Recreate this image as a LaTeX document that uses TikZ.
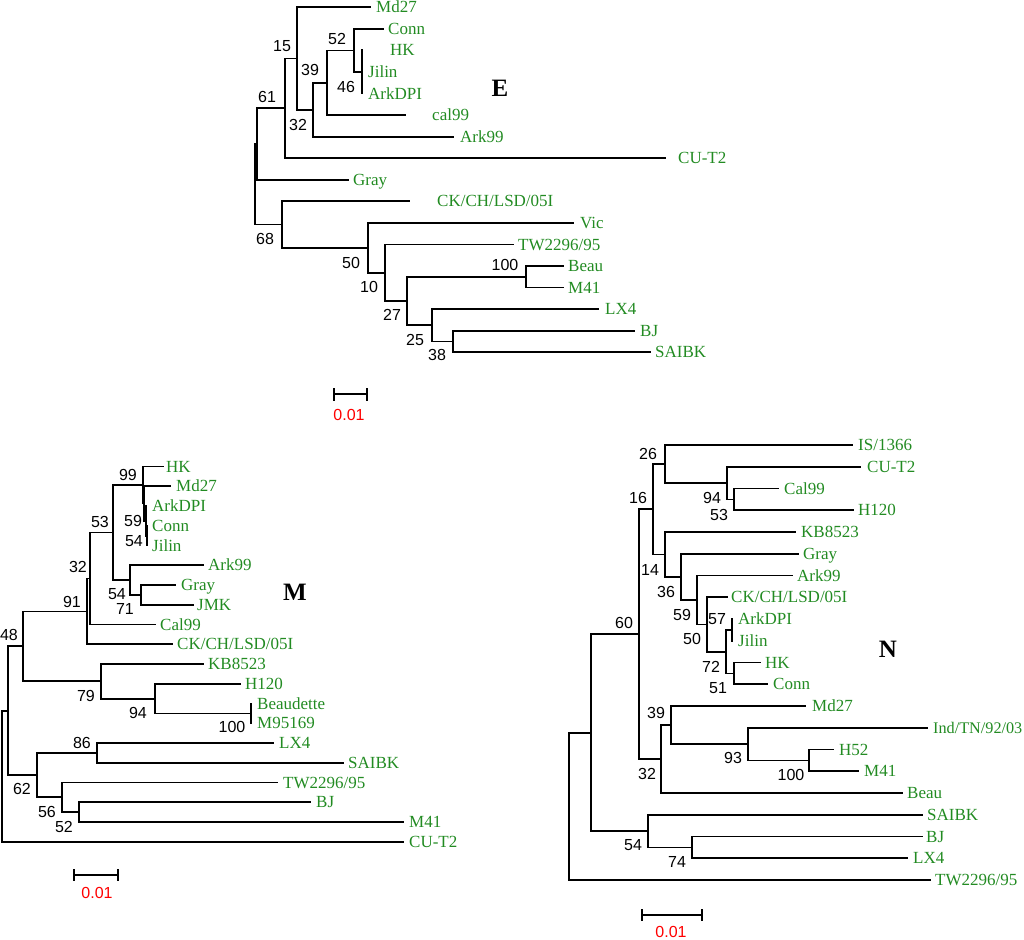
\documentclass[tikz,border=0pt]{standalone}
\usepackage{fontspec}
\setmainfont{Liberation Serif}
\setsansfont{Liberation Sans}
\usepackage{xcolor}
\definecolor{leafgreen}{RGB}{34,139,34}
\newcommand{\tipfont}{\fontsize{17}{17}\selectfont}
\newcommand{\bootfont}{\sffamily\fontsize{16}{16}\selectfont}
\newcommand{\panelfont}{\bfseries\fontsize{25}{25}\selectfont}

\begin{document}
\begin{tikzpicture}[x=1pt,y=-1pt,
  branch/.style={draw=black,line width=1.8pt,line cap=rect},
  tip/.style={anchor=base west,inner sep=0pt,text=leafgreen,font=\tipfont,yshift=-5.6pt},
  boot/.style={inner sep=0pt,font=\bootfont},
  panel/.style={inner sep=0pt,font=\panelfont},
  scalelbl/.style={inner sep=0pt,text=red,font=\bootfont}]
 \useasboundingbox (0,0) rectangle (1024,939);

 % ---------------- tree E ----------------
 \coordinate (eMd27)   at (370,7.3);
 \coordinate (eConn)   at (383,28.9);
 \coordinate (eHK)     at (362,50.4);
 \coordinate (eJilin)  at (362,72);
 \coordinate (eArkDPI) at (362,93.5);
 \coordinate (ecal99)  at (405,115);
 \coordinate (eArk99)  at (453,136.6);
 \coordinate (eCUT2)   at (665,158.2);
 \coordinate (eGray)   at (348,179.7);
 \coordinate (eCK)     at (409,201.3);
 \coordinate (eVic)    at (573,222.8);
 \coordinate (eTW)     at (513,244.4);
 \coordinate (eBeau)   at (563,265.9);
 \coordinate (eM41)    at (563,287.5);
 \coordinate (eLX4)    at (598,309);
 \coordinate (eBJ)     at (634,330.6);
 \coordinate (eSAIBK)  at (650,352.1);

 \coordinate (e46)  at (362,72);
 \coordinate (e52)  at (354,50.5);
 \coordinate (e39)  at (327,82.8);
 \coordinate (e32)  at (313,109.7);
 \coordinate (e15)  at (297,58.5);
 \coordinate (e61)  at (285,108.4);
 \coordinate (eX)   at (257.3,144);
 \coordinate (eR)   at (255,184.3);
 \coordinate (e68)  at (282,224.5);
 \coordinate (e50)  at (368,247.8);
 \coordinate (e10)  at (385,272.7);
 \coordinate (e27)  at (407,301);
 \coordinate (e100) at (526,276.7);
 \coordinate (e25)  at (432,325.2);
 \coordinate (e38)  at (453,341.4);

 \draw[branch] (eR) |- (eX) (eR) |- (e68);
 \draw[branch] (eX) |- (e61) (eX) |- (eGray);
 \draw[branch] (e61) |- (e15) (e61) |- (eCUT2);
 \draw[branch] (e15) |- (eMd27) (e15) |- (e32);
 \draw[branch] (e32) |- (e39) (e32) |- (eArk99);
 \draw[branch] (e39) |- (e52) (e39) |- (ecal99);
 \draw[branch] (e52) |- (eConn) (e52) |- (e46);
 \draw[branch] (e46) |- (eHK) (e46) |- (eArkDPI);
 \draw[branch] (e68) |- (eCK) (e68) |- (e50);
 \draw[branch] (e50) |- (eVic) (e50) |- (e10);
 \draw[branch] (e10) |- (eTW) (e10) |- (e27);
 \draw[branch] (e27) |- (e100) (e27) |- (e25);
 \draw[branch] (e100) |- (eBeau) (e100) |- (eM41);
 \draw[branch] (e25) |- (eLX4) (e25) |- (e38);
 \draw[branch] (e38) |- (eBJ) (e38) |- (eSAIBK);

 \node[tip] (teMd27)   at (376,7.3)   {Md27};
 \node[tip] (teConn)   at (388,28.9)  {Conn};
 \node[tip] (teHK)     at (390,50.4)  {HK};
 \node[tip] (teJilin)  at (368,72)    {Jilin};
 \node[tip] (teArkDPI) at (368,93.5)  {ArkDPI};
 \node[tip] (tecal99)  at (432,115)   {cal99};
 \node[tip] (teArk99)  at (460,136.6) {Ark99};
 \node[tip] (teCUT2)   at (678,158.2) {CU-T2};
 \node[tip] (teGray)   at (353,179.7) {Gray};
 \node[tip] (teCK)     at (437,201.3) {CK/CH/LSD/05I};
 \node[tip] (teVic)    at (580,222.8) {Vic};
 \node[tip] (teTW)     at (518,244.4) {TW2296/95};
 \node[tip] (teBeau)   at (568,265.9) {Beau};
 \node[tip] (teM41)    at (568,287.5) {M41};
 \node[tip] (teLX4)    at (605,309)   {LX4};
 \node[tip] (teBJ)     at (640,330.6) {BJ};
 \node[tip] (teSAIBK)  at (655,352.1) {SAIBK};

 \node[boot] (be61)  at (267,97)  {61};
 \node[boot] (be15)  at (282,46)  {15};
 \node[boot] (be39)  at (310,70)  {39};
 \node[boot] (be52)  at (337,39)  {52};
 \node[boot] (be46)  at (346,87)  {46};
 \node[boot] (be32)  at (298,125) {32};
 \node[boot] (be68)  at (265,239) {68};
 \node[boot] (be50)  at (351,263) {50};
 \node[boot] (be10)  at (369,287) {10};
 \node[boot] (be27)  at (392,315) {27};
 \node[boot] (be100) at (505,265) {100};
 \node[boot] (be25)  at (415,340) {25};
 \node[boot] (be38)  at (437,355) {38};

 \node[panel] (pE) at (500,88) {E};

 \coordinate (esl) at (334,394.3);
 \coordinate (esr) at (366.7,394.3);
 \draw[branch] (esl) -- (esr);
 \draw[branch] ([yshift=5.5pt]esl) -- ([yshift=-5.5pt]esl);
 \draw[branch] ([yshift=5.5pt]esr) -- ([yshift=-5.5pt]esr);
 \node[scalelbl] (eslab) at (349,415) {0.01};

 % ---------------- tree M ----------------
 \coordinate (mHK)     at (163,466.5);
 \coordinate (mMd27)   at (170,486.25);
 \coordinate (mArkDPI) at (146,506);
 \coordinate (mConn)   at (147,525.75);
 \coordinate (mJilin)  at (147,545.5);
 \coordinate (mArk99)  at (203,565.25);
 \coordinate (mGray)   at (175,585);
 \coordinate (mJMK)    at (193,604.75);
 \coordinate (mCal99)  at (155,624.5);
 \coordinate (mCK)     at (172,644.25);
 \coordinate (mKB)     at (203,664);
 \coordinate (mH120)   at (240,683.75);
 \coordinate (mBeaud)  at (251,703.5);
 \coordinate (mM95)    at (251,723.25);
 \coordinate (mLX4)    at (273,743);
 \coordinate (mSAIBK)  at (343,762.75);
 \coordinate (mTW)     at (277,782.5);
 \coordinate (mBJ)     at (310,802.25);
 \coordinate (mM41)    at (403,822);
 \coordinate (mCUT2)   at (403,841.75);

 \coordinate (m54a) at (147,535.6);
 \coordinate (m59)  at (146,520.8);
 \coordinate (mB)   at (144.3,503.5);
 \coordinate (m99)  at (143.3,485);
 \coordinate (m71)  at (141,594.9);
 \coordinate (m54b) at (130,580.1);
 \coordinate (m53)  at (113,532.5);
 \coordinate (m32)  at (90,578.5);
 \coordinate (m91)  at (87,611.4);
 \coordinate (m100) at (251,713.4);
 \coordinate (m94)  at (155,698.6);
 \coordinate (m79)  at (101,681.3);
 \coordinate (m48)  at (23,646.3);
 \coordinate (m86)  at (97,752.9);
 \coordinate (m52)  at (79,812.1);
 \coordinate (m56)  at (62,797.3);
 \coordinate (m62)  at (37,775.1);
 \coordinate (mY)   at (8,710.7);
 \coordinate (mR)   at (2,776.2);

 \draw[branch] (mR) |- (mY) (mR) |- (mCUT2);
 \draw[branch] (mY) |- (m48) (mY) |- (m62);
 \draw[branch] (m48) |- (m91) (m48) |- (m79);
 \draw[branch] (m91) |- (m32) (m91) |- (mCK);
 \draw[branch] (m32) |- (m53) (m32) |- (mCal99);
 \draw[branch] (m53) |- (m99) (m53) |- (m54b);
 \draw[branch] (m99) |- (mHK) (m99) |- (mB);
 \draw[branch] (mB) |- (mMd27) (mB) |- (m59);
 \draw[branch] (m59) |- (mArkDPI) (m59) |- (m54a);
 \draw[branch] (m54a) |- (mConn) (m54a) |- (mJilin);
 \draw[branch] (m54b) |- (mArk99) (m54b) |- (m71);
 \draw[branch] (m71) |- (mGray) (m71) |- (mJMK);
 \draw[branch] (m79) |- (mKB) (m79) |- (m94);
 \draw[branch] (m94) |- (mH120) (m94) |- (m100);
 \draw[branch] (m100) |- (mBeaud) (m100) |- (mM95);
 \draw[branch] (m62) |- (m86) (m62) |- (m56);
 \draw[branch] (m86) |- (mLX4) (m86) |- (mSAIBK);
 \draw[branch] (m56) |- (mTW) (m56) |- (m52);
 \draw[branch] (m52) |- (mBJ) (m52) |- (mM41);

 \node[tip] (tmHK)     at (166,466.5)  {HK};
 \node[tip] (tmMd27)   at (176,486.25) {Md27};
 \node[tip] (tmArkDPI) at (152,506)    {ArkDPI};
 \node[tip] (tmConn)   at (152,525.75) {Conn};
 \node[tip] (tmJilin)  at (152,545.5)  {Jilin};
 \node[tip] (tmArk99)  at (208,565.25) {Ark99};
 \node[tip] (tmGray)   at (181,585)    {Gray};
 \node[tip] (tmJMK)    at (197,604.75) {JMK};
 \node[tip] (tmCal99)  at (160,624.5)  {Cal99};
 \node[tip] (tmCK)     at (177,644.25) {CK/CH/LSD/05I};
 \node[tip] (tmKB)     at (208,664)    {KB8523};
 \node[tip] (tmH120)   at (245,683.75) {H120};
 \node[tip] (tmBeaud)  at (257,703.5)  {Beaudette};
 \node[tip] (tmM95)    at (257,723.25) {M95169};
 \node[tip] (tmLX4)    at (279,743)    {LX4};
 \node[tip] (tmSAIBK)  at (348,762.75) {SAIBK};
 \node[tip] (tmTW)     at (283,782.5)  {TW2296/95};
 \node[tip] (tmBJ)     at (316,802.25) {BJ};
 \node[tip] (tmM41)    at (409,822)    {M41};
 \node[tip] (tmCUT2)   at (409,841.75) {CU-T2};

 \node[boot] (bm99)  at (128,475) {99};
 \node[boot] (bm59)  at (133,521) {59};
 \node[boot] (bm54a) at (134,541) {54};
 \node[boot] (bm53)  at (100,522) {53};
 \node[boot] (bm32)  at (78,567)  {32};
 \node[boot] (bm54b) at (117,594) {54};
 \node[boot] (bm71)  at (125,609) {71};
 \node[boot] (bm91)  at (72,602)  {91};
 \node[boot] (bm48)  at (9,635)   {48};
 \node[boot] (bm79)  at (86,696)  {79};
 \node[boot] (bm94)  at (138,713) {94};
 \node[boot] (bm100) at (232,727) {100};
 \node[boot] (bm86)  at (82,743)  {86};
 \node[boot] (bm62)  at (22,789)  {62};
 \node[boot] (bm56)  at (47,812)  {56};
 \node[boot] (bm52)  at (64,827)  {52};

 \node[panel] (pM) at (295,592) {M};

 \coordinate (msl) at (74,875);
 \coordinate (msr) at (118.3,875);
 \draw[branch] (msl) -- (msr);
 \draw[branch] ([yshift=5.5pt]msl) -- ([yshift=-5.5pt]msl);
 \draw[branch] ([yshift=5.5pt]msr) -- ([yshift=-5.5pt]msr);
 \node[scalelbl] (mslab) at (97,893) {0.01};

 % ---------------- tree N ----------------
 \coordinate (nIS)     at (852,445);
 \coordinate (nCUT2)   at (860,466.75);
 \coordinate (nCal99)  at (778,488.5);
 \coordinate (nH120)   at (853,510.25);
 \coordinate (nKB)     at (795,532);
 \coordinate (nGray)   at (798,553.75);
 \coordinate (nArk99)  at (792,575.5);
 \coordinate (nCK)     at (726.7,597.25);
 \coordinate (nArkDPI) at (731.7,619);
 \coordinate (nJilin)  at (731.7,640.75);
 \coordinate (nHK)     at (760,662.5);
 \coordinate (nConn)   at (767,684.25);
 \coordinate (nMd27)   at (805,706);
 \coordinate (nInd)    at (927,727.75);
 \coordinate (nH52)    at (833,749.5);
 \coordinate (nM41)    at (858,771.25);
 \coordinate (nBeau)   at (902,793);
 \coordinate (nSAIBK)  at (922,814.75);
 \coordinate (nBJ)     at (922,836.5);
 \coordinate (nLX4)    at (907,858.25);
 \coordinate (nTW)     at (930,880);

 \coordinate (n53)  at (734,499.4);
 \coordinate (n94)  at (726.7,483.1);
 \coordinate (n26)  at (665,464);
 \coordinate (n57)  at (731.7,629.9);
 \coordinate (n51)  at (734,673.4);
 \coordinate (n72)  at (725.7,651.6);
 \coordinate (n50)  at (706.7,624.4);
 \coordinate (n59)  at (696.7,600);
 \coordinate (n36)  at (680.7,576.9);
 \coordinate (n14)  at (665,554.4);
 \coordinate (n16)  at (652.7,509.2);
 \coordinate (n100) at (809.3,760.4);
 \coordinate (n93)  at (748.3,744.1);
 \coordinate (n39)  at (670.7,725);
 \coordinate (n32)  at (661,759);
 \coordinate (n60)  at (639,634.1);
 \coordinate (n74)  at (692.3,847.4);
 \coordinate (n54)  at (647.7,831.1);
 \coordinate (nP)   at (591,732.6);
 \coordinate (nR)   at (569.3,806.3);

 \draw[branch] (nR) |- (nP) (nR) |- (nTW);
 \draw[branch] (nP) |- (n60) (nP) |- (n54);
 \draw[branch] (n60) |- (n16) (n60) |- (n32);
 \draw[branch] (n16) |- (n26) (n16) |- (n14);
 \draw[branch] (n26) |- (nIS) (n26) |- (n94);
 \draw[branch] (n94) |- (nCUT2) (n94) |- (n53);
 \draw[branch] (n53) |- (nCal99) (n53) |- (nH120);
 \draw[branch] (n14) |- (nKB) (n14) |- (n36);
 \draw[branch] (n36) |- (nGray) (n36) |- (n59);
 \draw[branch] (n59) |- (nArk99) (n59) |- (n50);
 \draw[branch] (n50) |- (nCK) (n50) |- (n72);
 \draw[branch] (n72) |- (n57) (n72) |- (n51);
 \draw[branch] (n57) |- (nArkDPI) (n57) |- (nJilin);
 \draw[branch] (n51) |- (nHK) (n51) |- (nConn);
 \draw[branch] (n32) |- (n39) (n32) |- (nBeau);
 \draw[branch] (n39) |- (nMd27) (n39) |- (n93);
 \draw[branch] (n93) |- (nInd) (n93) |- (n100);
 \draw[branch] (n100) |- (nH52) (n100) |- (nM41);
 \draw[branch] (n54) |- (nSAIBK) (n54) |- (n74);
 \draw[branch] (n74) |- (nBJ) (n74) |- (nLX4);

 \node[tip] (tnIS)     at (858,445)    {IS/1366};
 \node[tip] (tnCUT2)   at (867,466.75) {CU-T2};
 \node[tip] (tnCal99)  at (784,488.5)  {Cal99};
 \node[tip] (tnH120)   at (858,510.25) {H120};
 \node[tip] (tnKB)     at (801,532)    {KB8523};
 \node[tip] (tnGray)   at (803,553.75) {Gray};
 \node[tip] (tnArk99)  at (797,575.5)  {Ark99};
 \node[tip] (tnCK)     at (731,597.25) {CK/CH/LSD/05I};
 \node[tip] (tnArkDPI) at (738,619)    {ArkDPI};
 \node[tip] (tnJilin)  at (738,640.75) {Jilin};
 \node[tip] (tnHK)     at (765,662.5)  {HK};
 \node[tip] (tnConn)   at (773,684.25) {Conn};
 \node[tip] (tnMd27)   at (812,706)    {Md27};
 \node[tip,font=\fontsize{16.2}{16.2}\selectfont] (tnInd) at (933,727.75) {Ind/TN/92/03};
 \node[tip] (tnH52)    at (839,749.5)  {H52};
 \node[tip] (tnM41)    at (864,771.25) {M41};
 \node[tip] (tnBeau)   at (907,793)    {Beau};
 \node[tip] (tnSAIBK)  at (927,814.75) {SAIBK};
 \node[tip] (tnBJ)     at (926,836.5)  {BJ};
 \node[tip] (tnLX4)    at (913,858.25) {LX4};
 \node[tip] (tnTW)     at (935,880)    {TW2296/95};

 \node[boot] (bn26)  at (648,454) {26};
 \node[boot] (bn94)  at (712,498) {94};
 \node[boot] (bn53)  at (719,515) {53};
 \node[boot] (bn16)  at (638,498) {16};
 \node[boot] (bn14)  at (650,570) {14};
 \node[boot] (bn36)  at (666,592) {36};
 \node[boot] (bn59)  at (682,615) {59};
 \node[boot] (bn57)  at (717,619) {57};
 \node[boot] (bn50)  at (692,639) {50};
 \node[boot] (bn72)  at (711,667) {72};
 \node[boot] (bn51)  at (718,688) {51};
 \node[boot] (bn60)  at (624,623) {60};
 \node[boot] (bn39)  at (656,713) {39};
 \node[boot] (bn93)  at (733,758) {93};
 \node[boot] (bn100) at (791,775) {100};
 \node[boot] (bn32)  at (647,774) {32};
 \node[boot] (bn54)  at (633,845) {54};
 \node[boot] (bn74)  at (677,862) {74};

 \node[panel] (pN) at (888,649) {N};

 \coordinate (nsl) at (641.7,915);
 \coordinate (nsr) at (701.7,915);
 \draw[branch] (nsl) -- (nsr);
 \draw[branch] ([yshift=5.5pt]nsl) -- ([yshift=-5.5pt]nsl);
 \draw[branch] ([yshift=5.5pt]nsr) -- ([yshift=-5.5pt]nsr);
 \node[scalelbl] (nslab) at (671,932) {0.01};

\end{tikzpicture}
\end{document}
